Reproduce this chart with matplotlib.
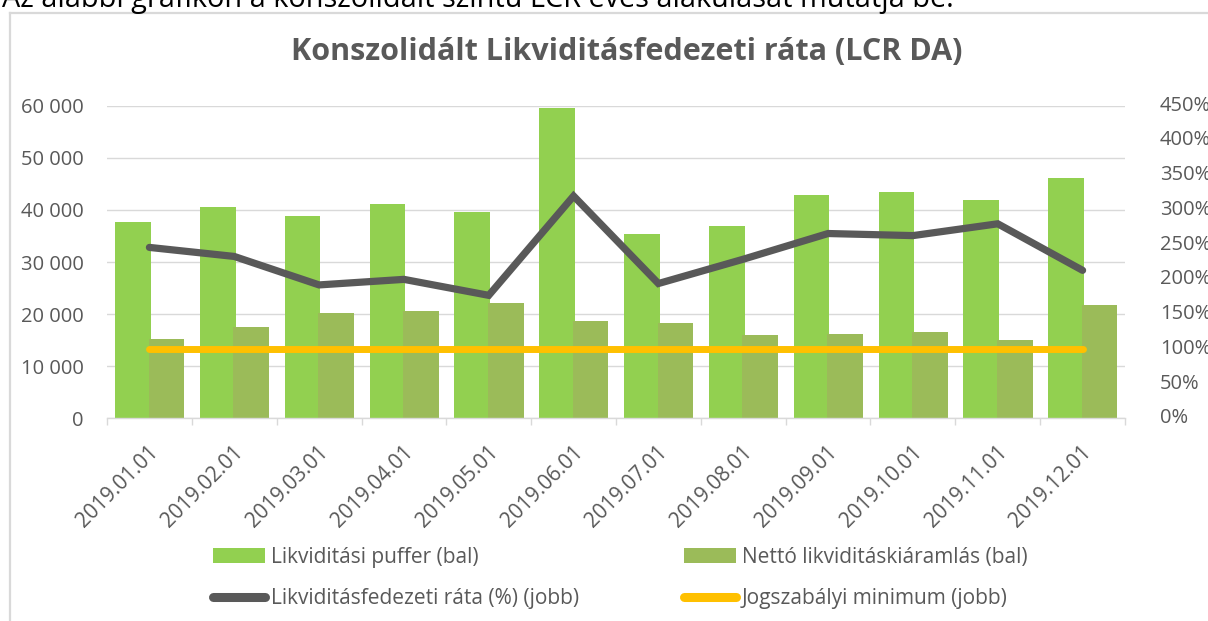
import matplotlib
matplotlib.use("Agg")
import matplotlib.pyplot as plt
import matplotlib.transforms as mtransforms
import numpy as np
from matplotlib.lines import Line2D
from matplotlib.patches import Patch
from matplotlib.ticker import FuncFormatter

plt.rcParams["font.family"] = ["Open Sans", "DejaVu Sans"]

DATES = [
    "2019.01.01", "2019.02.01", "2019.03.01", "2019.04.01",
    "2019.05.01", "2019.06.01", "2019.07.01", "2019.08.01",
    "2019.09.01", "2019.10.01", "2019.11.01", "2019.12.01",
]
PUFFER = [37700, 40550, 38750, 41200, 39550, 59550, 35350, 36950, 42850, 43400, 41850, 46150]
NETTO = [15300, 17500, 20200, 20600, 22200, 18600, 18300, 16000, 16100, 16500, 15000, 21700]
LCR = [2.46, 2.33, 1.92, 2.00, 1.77, 3.20, 1.94, 2.29, 2.66, 2.63, 2.80, 2.13]
MINIMUM = [1.0, 1.0, 1.0, 1.0, 1.0, 1.0, 1.0, 1.0, 1.0, 1.0, 1.0, 1.0]
RIGHT_TICKS = [0, 0.5, 1.0, 1.5, 2.0, 2.5, 3.0, 3.5, 4.0, 4.5]

LABELS = [
    "Likviditási puffer (bal)",
    "Likviditásfedezeti ráta (%) (jobb)",
    "Nettó likviditáskiáramlás (bal)",
    "Jogszabályi minimum (jobb)",
]

GREEN = "#92D050"
OLIVE = "#9BBB59"
DARK = "#595959"
YELLOW = "#FFC000"
GRID = "#D9D9D9"
TEXT = "#595959"

W, H = 1208, 621


def fx(px):
    return px / W


def fy(py):
    return 1 - py / H


fig = plt.figure(figsize=(W / 100, H / 100), dpi=100)
fig.patch.set_facecolor("white")

# chart frame (only left and top edges are visible in the crop)
fig.add_artist(Line2D([fx(10), fx(10)], [fy(13), 0], color=GRID, lw=1.6))
fig.add_artist(Line2D([fx(10), 1], [fy(13), fy(13)], color=GRID, lw=1.6))

# sentence above the chart, cut off by the top edge as in the source
fig.text(fx(2), fy(7), "Az alábbi grafikon a konszolidált szintű LCR éves alakulását mutatja be.",
         fontsize=20.8, color="black", va="baseline", ha="left")

fig.text(fx(627), fy(60), "Konszolidált Likviditásfedezeti ráta (LCR DA)",
         fontsize=22, fontweight="bold", color=TEXT, ha="center", va="baseline")

left, right, top, bottom = 107, 1125, 105.7, 418.3
ax = fig.add_axes([fx(left), fy(bottom), fx(right - left), (bottom - top) / H])
ax2 = ax.twinx()

x = np.arange(len(DATES))
bw = 0.42
ax.bar(x - 0.195, PUFFER, bw, color=GREEN, zorder=2)
ax.bar(x + 0.2, NETTO, bw, color=OLIVE, zorder=2)

ax2.plot(x, LCR, color=DARK, lw=5.2, solid_capstyle="round", solid_joinstyle="miter", zorder=3)
ax2.plot(x, MINIMUM, color=YELLOW, lw=5.0, solid_capstyle="round", zorder=3)

ax.set_xlim(-0.5, len(DATES) - 0.5)
ax.set_ylim(0, 60000)
ax.set_yticks(np.arange(0, 60001, 10000))
ax.yaxis.set_major_formatter(FuncFormatter(lambda v, p: f"{int(v):,}".replace(",", " ")))
ax2.set_ylim(0, 4.5)
ax2.set_yticks(RIGHT_TICKS)
ax2.tick_params(axis="y", length=0, labelright=False)

# right-axis labels sit further out than the default tick pad
yt = ax2.get_yaxis_transform()
for v in RIGHT_TICKS:
    ax2.text(1 + 35 / (right - left), v, f"{v * 100:.0f}%", transform=yt,
             ha="left", va="center", fontsize=14.5, color=TEXT, clip_on=False)

ax.grid(axis="y", color=GRID, lw=1.0)
ax.set_axisbelow(True)

for a in (ax, ax2):
    for s in ("left", "right", "top"):
        a.spines[s].set_visible(False)
ax.spines["bottom"].set_color(GRID)
ax.spines["bottom"].set_linewidth(1.0)
ax2.spines["bottom"].set_visible(False)

ax.tick_params(axis="y", length=0, pad=17, labelsize=14.5, labelcolor=TEXT)

ax.set_xticks(x)
ax.set_xticks(np.arange(-0.5, len(DATES), 1), minor=True)
ax.tick_params(axis="x", which="major", length=0, pad=22, labelsize=15, labelcolor=TEXT)
ax.tick_params(axis="x", which="minor", length=5, width=1.0, color=GRID, direction="out")
ax.set_xticklabels(DATES, rotation=45, ha="right", va="center", rotation_mode="anchor")
x_shift = mtransforms.ScaledTranslation(6 / 100, 0, fig.dpi_scale_trans)
for lbl in ax.get_xticklabels():
    lbl.set_transform(lbl.get_transform() + x_shift)

# legend, two columns placed separately
h_puffer = Patch(facecolor=GREEN)
h_netto = Patch(facecolor=OLIVE)
h_lcr = Line2D([], [], color=DARK, lw=6.5, solid_capstyle="round")
h_min = Line2D([], [], color=YELLOW, lw=6.5, solid_capstyle="round")

common = dict(frameon=False, borderpad=0, borderaxespad=0, handlelength=2.5,
              handletextpad=0.28, labelspacing=0.95, fontsize=15, labelcolor=TEXT,
              loc="upper left", bbox_transform=fig.transFigure)
leg1 = fig.legend([h_puffer, h_lcr], LABELS[:2], bbox_to_anchor=(fx(213), fy(547)), **common)
leg2 = fig.legend([h_netto, h_min], LABELS[2:], bbox_to_anchor=(fx(684), fy(547)), **common)

fig.savefig("out.png", dpi=100)
